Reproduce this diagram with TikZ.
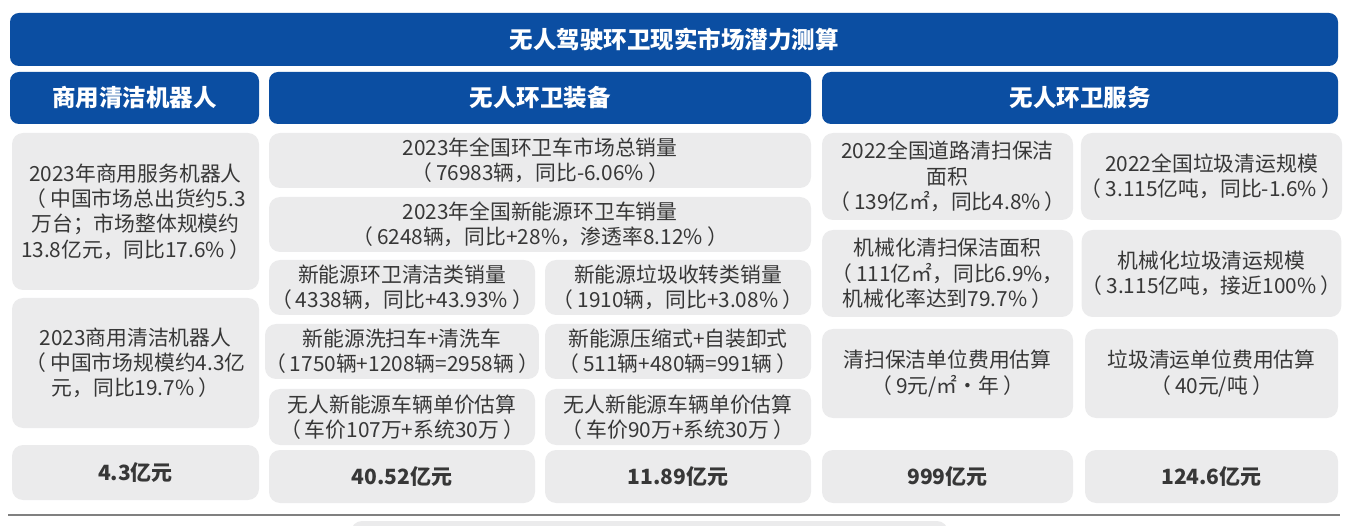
\documentclass[tikz,border=0pt]{standalone}
\usepackage{fontspec}
\setmainfont{Noto Sans CJK SC}
\definecolor{hblue}{RGB}{11,78,162}
\definecolor{boxgray}{RGB}{235,235,236}
\definecolor{txt}{RGB}{55,55,55}
\definecolor{rulegray}{RGB}{128,128,128}
\newcommand{\lp}{（\hspace{0.2em}}
\newcommand{\rp}{\hspace{0.2em}）}
\tikzset{
  bluebox/.style={fill=hblue, rounded corners=9pt, inner sep=0pt, text=white, font=\fontsize{23.5}{25}\selectfont\bfseries},
  graybox/.style={fill=boxgray, rounded corners=11pt, inner sep=0pt, text=txt, align=center, font=\fontsize{20.8}{25.3}\selectfont},
  valbox/.style={graybox, font=\fontsize{21}{25}\selectfont\bfseries},
}
\newcommand{\bx}[7]{\node[#2, minimum width={#5-#3}, minimum height={#6-#4}] (#1) at ({(#3+#5)/2},{(#4+#6)/2}) {#7};}
\begin{document}
\begin{tikzpicture}[x=1pt,y=-1pt]
\useasboundingbox (0,0) rectangle (1360,526);
\begin{scope}
\clip (0,0) rectangle (1360,526);
% title and headers
\bx{title}{bluebox}{10}{13}{1338}{66}{无人驾驶环卫现实市场潜力测算}
\bx{h1}{bluebox}{10}{72}{259}{124}{商用清洁机器人}
\bx{h2}{bluebox}{269}{72}{811}{124}{无人环卫装备}
\bx{h3}{bluebox}{822}{72}{1338}{124}{无人环卫服务}
% left column
\bx{a1}{graybox}{12}{133}{259}{290}{2023年商用服务机器人\\\lp 中国市场总出货约5.3\\万台；市场整体规模约\\13.8亿元，同比17.6\%\rp}
\bx{a2}{graybox}{12}{298}{259}{428}{2023商用清洁机器人\\\lp 中国市场规模约4.3亿\\元，同比19.7\%\rp}
\bx{a3}{valbox}{12}{445}{259}{500}{4.3亿元}
% middle
\bx{m1}{graybox}{269}{133}{811}{188}{2023年全国环卫车市场总销量\\\lp 76983辆，同比-6.06\%\rp}
\bx{m2}{graybox}{269}{197}{811}{252}{2023年全国新能源环卫车销量\\\lp 6248辆，同比+28\%，渗透率8.12\%\rp}
\bx{m3l}{graybox}{269}{260}{535}{315}{新能源环卫清洁类销量\\\lp 4338辆，同比+43.93\%\rp}
\bx{m3r}{graybox}{545}{260}{811}{315}{新能源垃圾收转类销量\\\lp 1910辆，同比+3.08\%\rp}
\bx{m4l}{graybox}{269}{324}{535}{379}{新能源洗扫车+清洗车\\\lp 1750辆+1208辆=2958辆\rp}
\bx{m4r}{graybox}{545}{324}{811}{379}{新能源压缩式+自装卸式\\\lp 511辆+480辆=991辆\rp}
\bx{m5l}{graybox}{269}{389}{535}{445}{无人新能源车辆单价估算\\\lp 车价107万+系统30万\rp}
\bx{m5r}{graybox}{545}{389}{811}{445}{无人新能源车辆单价估算\\\lp 车价90万+系统30万\rp}
\bx{m6l}{valbox}{269}{450}{535}{503}{40.52亿元}
\bx{m6r}{valbox}{545}{450}{811}{503}{11.89亿元}
% right
\bx{r1l}{graybox}{822}{133}{1073}{220}{2022全国道路清扫保洁\\面积\\\lp 139亿㎡，同比4.8\%\rp}
\bx{r1r}{graybox}{1085}{133}{1338}{220}{2022全国垃圾清运规模\\\lp 3.115亿吨，同比-1.6\%\rp}
\bx{r2l}{graybox}{822}{230}{1073}{317}{机械化清扫保洁面积\\\lp 111亿㎡，同比6.9\%，\\机械化率达到79.7\%\rp}
\bx{r2r}{graybox}{1085}{230}{1338}{317}{机械化垃圾清运规模\\\lp 3.115亿吨，接近100\%\rp}
\bx{r3l}{graybox}{822}{329}{1073}{418}{清扫保洁单位费用估算\\\lp 9元/㎡·年\rp}
\bx{r3r}{graybox}{1085}{329}{1338}{418}{垃圾清运单位费用估算\\\lp 40元/吨\rp}
\bx{r4l}{valbox}{822}{450}{1073}{503}{999亿元}
\bx{r4r}{valbox}{1085}{450}{1338}{503}{124.6亿元}
% bottom rule and partial box
\coordinate (ruleL) at (8,515);
\coordinate (ruleR) at (1340,515);
\draw[rulegray, line width=2.2pt] (ruleL) -- (ruleR);
\bx{tail}{graybox}{351}{521}{948}{560}{}
\end{scope}
\end{tikzpicture}
\end{document}
